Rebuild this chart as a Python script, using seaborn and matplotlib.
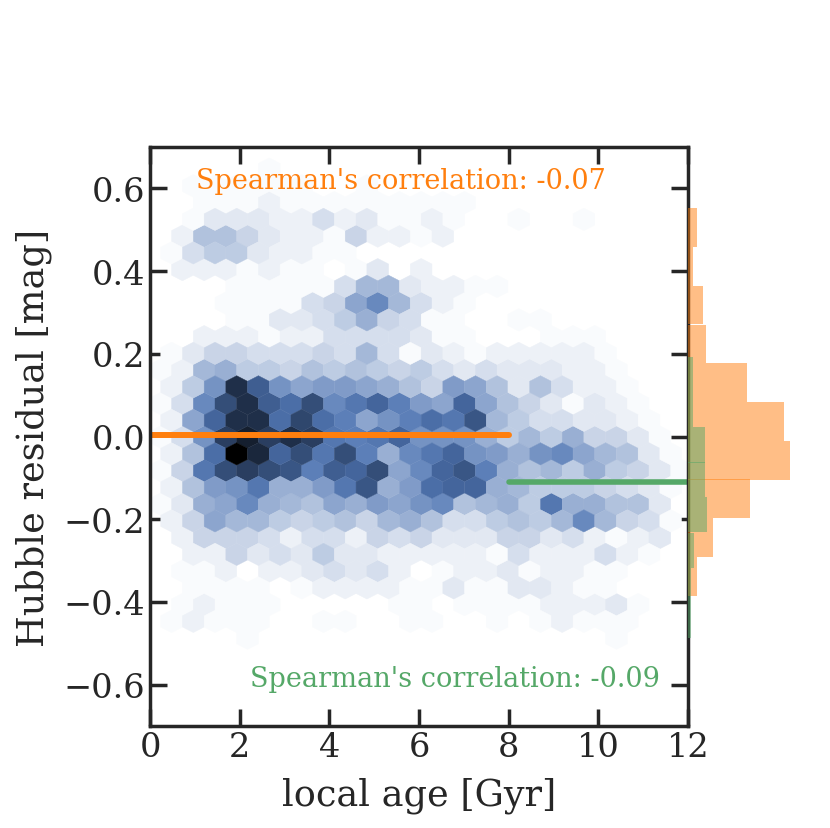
import colorsys
import numpy as np
import matplotlib
matplotlib.use("Agg")
import matplotlib.pyplot as plt
import seaborn as sns

# hexbin grid (age on x, Hubble residual on y)
age_min, age_max = 0.24, 11.856
res_min, res_max = -0.4875, 0.6465
nx, ny = 24, 14

# colour level of each hex, rows from top (highest residual) to bottom;
# rows alternate between the two hex lattices (25 / 24 cells)
hex_rows = [
    [0,0,0,0,0,1,0,0,0,0,0,0,0,0,0,0,0,0,0,0,0,0,0,0,0],
    [0,1,1,1,1,1,1,0,0,1,0,0,0,0,0,0,0,0,0,0,0,0,0,0],
    [0,0,1,1,1,2,1,1,1,1,1,1,1,1,1,0,0,0,0,0,0,0,0,0,0],
    [0,1,3,3,3,2,2,4,2,3,1,1,2,1,0,0,1,0,0,1,0,0,0,0],
    [0,2,7,7,5,3,2,2,1,5,2,2,1,2,0,0,0,0,0,0,0,0,0,0,0],
    [1,4,6,6,3,2,2,1,1,0,0,0,0,0,0,0,0,0,0,0,0,0,0,0],
    [0,2,2,2,1,2,1,1,0,1,3,0,2,0,0,0,0,0,0,0,0,0,0,0,0],
    [0,0,0,1,1,1,1,1,4,8,8,3,2,2,1,1,0,0,0,0,0,0,0,0],
    [0,0,0,1,1,1,1,4,5,10,13,8,4,2,1,0,0,0,0,0,0,0,0,0,0],
    [0,0,0,1,1,3,3,4,6,9,5,4,1,1,0,0,1,1,0,0,0,0,0,0],
    [0,0,2,2,2,1,2,2,4,4,4,4,3,1,1,0,0,0,1,1,1,0,0,0,0],
    [1,3,5,5,4,4,4,5,4,8,4,1,3,2,1,2,2,2,2,2,1,0,0,0],
    [1,2,8,9,6,6,5,7,6,7,6,5,6,4,3,4,3,3,3,2,2,1,0,0,0],
    [2,6,12,24,18,12,10,11,11,10,9,7,5,11,10,7,3,7,4,2,2,1,0,0],
    [1,4,13,20,24,18,16,20,13,15,17,14,11,10,17,10,7,5,3,1,3,2,1,0,0],
    [2,10,17,24,24,16,21,16,14,10,12,14,16,15,19,8,6,4,4,3,3,2,1,0],
    [1,4,12,22,26,22,24,22,15,14,15,17,12,12,12,9,6,8,6,9,5,5,3,1,0],
    [2,7,16,30,25,17,20,15,20,14,9,13,15,17,12,11,9,12,13,10,8,7,3,1],
    [1,5,15,20,22,20,19,14,18,17,20,10,13,17,19,14,9,7,8,6,9,6,5,3,1],
    [2,7,11,12,15,9,9,11,15,19,9,11,16,17,17,9,8,6,6,6,5,4,3,1],
    [1,3,9,10,13,9,8,7,10,9,11,10,12,13,7,8,9,6,15,9,9,7,7,3,0],
    [2,5,10,8,8,6,5,6,7,5,8,9,7,4,4,6,7,6,8,13,8,5,4,1],
    [0,2,5,5,5,4,2,4,4,2,5,4,5,3,3,3,5,5,3,4,2,1,2,3,0],
    [0,2,2,5,3,4,3,6,3,3,2,2,2,2,2,1,4,2,2,2,4,2,1,0],
    [0,1,1,2,0,2,2,3,4,3,4,2,0,1,2,2,3,1,2,2,1,1,0,0,0],
    [0,1,1,1,1,0,1,2,2,2,2,1,1,3,1,1,3,3,2,1,1,0,0,0],
    [0,1,2,1,1,1,0,0,0,0,0,1,1,0,1,1,1,1,2,2,2,3,1,0,0],
    [1,2,1,1,1,0,0,1,1,0,0,1,1,0,0,1,0,1,2,1,1,1,0,0],
    [0,0,0,0,1,0,0,0,0,0,0,0,0,0,0,0,0,0,0,0,0,1,0,0,0],
]

# marginal histograms of the residual (lower bin edges, counts)
orange_bin_lo = [-0.385, -0.291, -0.197, -0.104, -0.011, 0.083, 0.177, 0.271, 0.365, 0.459]
orange_counts = [9, 25, 62, 102, 96, 59, 18, 15, 5, 9]
orange_bin_w = 0.0937
green_bin_lo = [-0.487, -0.402, -0.317, -0.232, -0.147, -0.063, 0.023, 0.107]
green_counts = [3, 3, 6, 19, 17, 17, 5, 5]
green_bin_w = 0.0848

# mean residual lines
orange_line_x = [0.05, 8.0]
orange_line_y = [0.004, 0.004]
green_line_x = [8.0, 12.0]
green_line_y = [-0.111, -0.111]

orange_text = "Spearman's correlation: -0.07"
green_text = "Spearman's correlation: -0.09"

sns.set_theme(style="ticks", context="poster", font="serif", font_scale=1.1,
              rc={"xtick.direction": "in", "ytick.direction": "in",
                  "xtick.top": True, "ytick.right": True})

c_orange = "#ff7f0e"
c_green = "#55a868"

# hex cell centres on matplotlib's hexbin lattice
sx = (age_max - age_min) / nx
sy = (res_max - res_min) / ny
hx, hy, hc = [], [], []
for k, row in enumerate(hex_rows[::-1]):
    if k % 2 == 0:
        xs = age_min + np.arange(nx + 1) * sx
    else:
        xs = age_min + (np.arange(nx) + 0.5) * sx
    for xv, cv in zip(xs, row):
        if cv > 0:
            hx.append(xv)
            hy.append(res_min + k * sy / 2)
            hc.append(cv)

h, l, s = colorsys.rgb_to_hls(*matplotlib.colors.to_rgb("#4c72b0"))
cols = [colorsys.hls_to_rgb(h, v, s) for v in np.linspace(1, 0, 12)]
cmap = sns.blend_palette(cols, as_cmap=True)

fig = plt.figure(figsize=(8.3, 8.29), dpi=100)
ax = fig.add_axes([150 / 830, 102 / 829, 538 / 830, 579 / 829])
axh = fig.add_axes([688 / 830, 102 / 829, 142 / 830, 579 / 829], sharey=ax)

ax.hexbin(hx, hy, C=hc, gridsize=(nx, ny),
          extent=(age_min, age_max, res_min, res_max),
          reduce_C_function=np.sum, cmap=cmap, vmin=0.5, vmax=30,
          linewidths=0.3)

ax.plot(orange_line_x, orange_line_y, color=c_orange, lw=4.3, solid_capstyle="round")
ax.plot(green_line_x, green_line_y, color=c_green, lw=4.0, solid_capstyle="round")

ax.text(1.03, 0.62, orange_text, color=c_orange, fontsize=19.5, va="center")
ax.text(2.23, -0.585, green_text, color=c_green, fontsize=19.5, va="center")

ax.set_xlim(0, 12)
ax.set_ylim(-0.7, 0.7)
ax.set_xticks([0, 2, 4, 6, 8, 10, 12])
ax.set_yticks([-0.6, -0.4, -0.2, 0.0, 0.2, 0.4, 0.6])
ax.set_xlabel("local age [Gyr]", labelpad=10)
ax.set_ylabel("Hubble residual [mag]", labelpad=8)

axh.barh(orange_bin_lo, orange_counts, height=orange_bin_w, align="edge",
         color=c_orange, alpha=0.5, linewidth=0)
axh.barh(green_bin_lo, green_counts, height=green_bin_w, align="edge",
         color=c_green, alpha=0.5, linewidth=0)
axh.set_xlim(0, 142)
axh.axis("off")

fig.savefig("out.png", dpi=100)
